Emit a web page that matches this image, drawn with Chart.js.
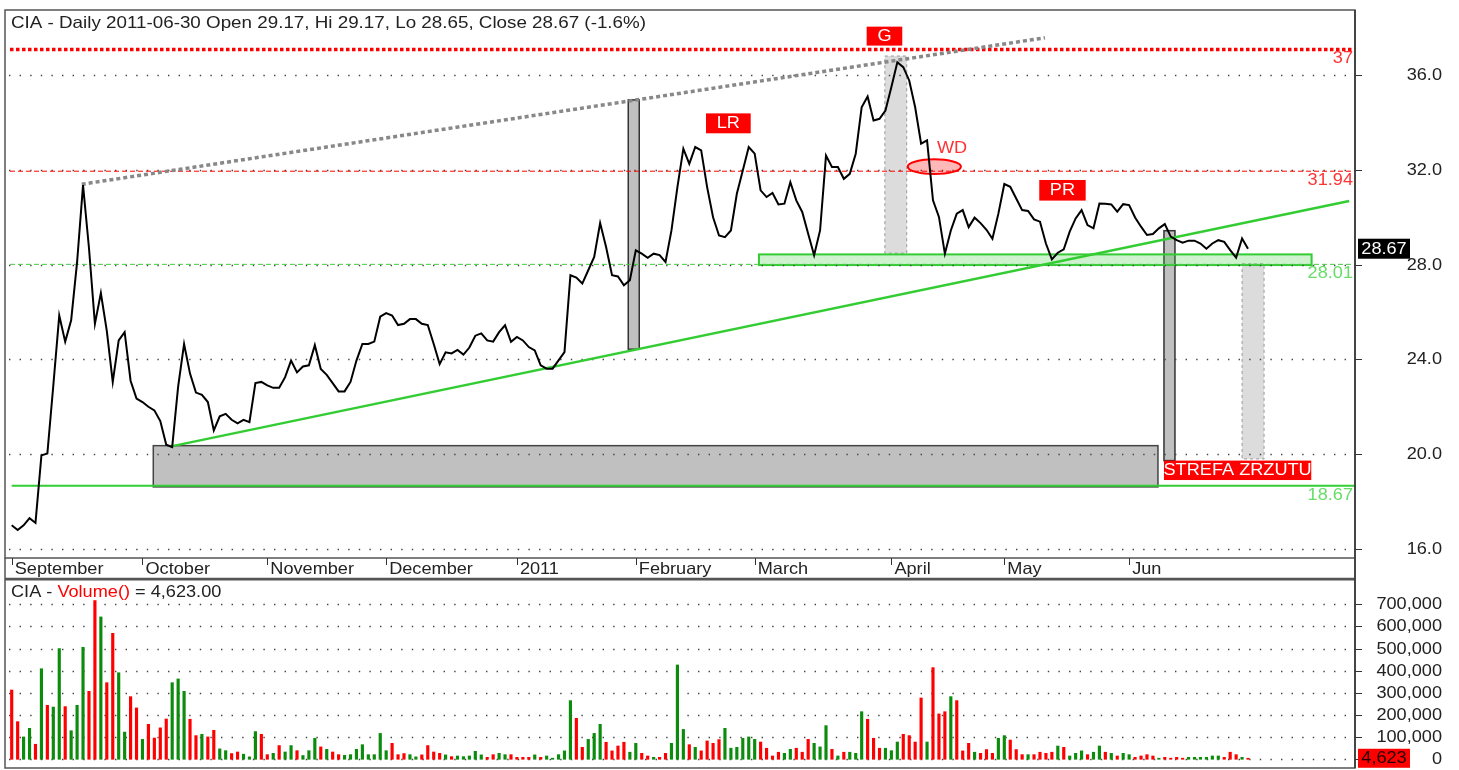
<!DOCTYPE html>
<html><head><meta charset="utf-8">
<script src="https://cdn.jsdelivr.net/npm/chart.js@4.4.0/dist/chart.umd.min.js"></script>
<style>
html,body{margin:0;padding:0;background:#fff;width:1459px;height:770px;overflow:hidden}
#c1{position:absolute;left:0;top:0}
#c2{position:absolute;left:0;top:579px}
</style></head><body>
<canvas id="c1" width="1459" height="579"></canvas>
<canvas id="c2" width="1459" height="191"></canvas>
<script>
// ---------------- DATA ----------------
const titleText = 'CIA - Daily 2011-06-30 Open 29.17, Hi 29.17, Lo 28.65, Close 28.67 (-1.6%)';
const closes = [
17.0,16.8,17.0,17.3,17.1,19.95,20.03,22.9,25.85,24.75,
25.65,28.1,31.35,28.7,25.5,26.8,25.2,23.05,24.8,25.15,
23.1,22.35,22.2,22.0,21.85,21.4,20.4,20.3,22.85,24.65,
23.4,22.6,22.5,22.2,21.0,21.6,21.7,21.45,21.3,21.45,
21.35,23.0,23.05,22.9,22.8,22.8,23.25,23.95,23.45,23.7,
23.75,24.6,23.6,23.35,23.0,22.65,22.65,23.05,23.95,24.65,
24.65,24.75,25.8,25.95,25.85,25.45,25.5,25.7,25.7,25.5,
25.45,24.65,23.8,24.3,24.25,24.4,24.2,24.5,25.0,25.1,
24.8,24.75,25.15,25.44,24.74,24.95,24.8,24.52,24.38,23.75,
23.61,23.61,23.96,24.31,27.55,27.45,27.2,27.76,28.32,29.75,
28.74,27.55,27.5,27.13,27.34,28.6,28.46,28.29,28.46,28.4,
28.11,29.44,31.27,32.89,32.25,32.96,32.82,31.27,30.0,29.23,
29.16,29.44,30.99,31.97,32.96,32.68,31.13,30.85,31.02,30.54,
30.57,31.48,30.71,30.22,29.3,28.39,29.44,32.6,32.12,32.12,
31.62,31.83,32.68,34.64,35.09,34.08,34.15,34.5,35.49,36.54,
36.33,35.77,34.64,33.1,33.24,30.71,30.01,28.46,29.44,30.15,
30.3,29.58,29.98,29.75,29.47,29.09,30.15,31.40,31.28,30.79,
30.30,30.26,29.91,29.81,28.89,28.22,28.50,28.64,29.39,29.95,
30.30,29.67,29.53,30.58,30.57,30.54,30.23,30.55,30.51,29.99,
29.60,29.25,29.29,29.53,29.71,29.18,29.03,28.92,29.01,29.01,
28.89,28.67,28.89,29.03,28.96,28.61,28.29,29.10,28.67
];
const volumes = [
313000,170000,101000,140000,68000,409000,244000,236000,500000,238000,
129000,244000,506000,307000,717000,643000,346000,569000,391000,123000,
283000,232000,90000,158000,96000,142000,182000,346000,363000,307000,
181000,107000,113000,101000,131000,47000,39000,26000,33000,23000,
11000,125000,113000,21000,27000,62000,33000,62000,39000,17000,
39000,95000,56000,45000,33000,21000,18000,21000,45000,66000,
21000,21000,117000,39000,72000,21000,26000,21000,11000,20000,
62000,33000,27000,20000,12000,15000,12000,15000,36000,20000,
9000,21000,27000,21000,21000,9000,9000,9000,20000,9000,
15000,5000,21000,38000,265000,185000,54000,90000,117000,158000,
77000,38000,60000,77000,32000,72000,27000,15000,9000,9000,
27000,72000,426000,135000,66000,54000,38000,83000,72000,89000,
140000,50000,54000,95000,101000,90000,78000,50000,15000,32000,
27000,45000,50000,32000,90000,72000,56000,152000,45000,15000,
32000,32000,27000,215000,181000,95000,50000,50000,39000,78000,
113000,107000,78000,277000,78000,414000,205000,215000,283000,265000,
38000,72000,32000,27000,44000,27000,95000,107000,87000,44000,
21000,21000,21000,32000,27000,32000,60000,54000,15000,27000,
38000,21000,32000,60000,32000,27000,15000,27000,21000,9000,
15000,21000,15000,5000,9000,5000,9000,5000,9000,9000,
9000,9000,15000,15000,9000,32000,21000,9000,4623
];
// U = up day (green volume), D = down day (red volume)
const dirs =
 "DDUUDUDUUD"+"UUUDDUDDUU"+"DDUDDDDUUU"+"DDUDDUUDDU"+"UUDDUDUUDU"+
 "UUDUDDUUUU"+"UUUUDDDUUD"+"DDDUDUUUUU"+"DDUUDDDDUD"+"UUUUUDDUUU"+
 "DDDDUUDDUD"+"DUUUDUDDDD"+"UUUUUUDDDD"+"UUDDDUUUDU"+"DUUUDDDUUU"+
 "DDDDUDDDUD"+"DDUDDDUUDD"+"DUDDDDUDUU"+"UDUUDUDUUD"+"DDDUDDDDUU"+
 "UUUUDDDUD";
const monthLabels = ['September','October','November','December','2011','February','March','April','May','Jun'];
const monthStarts = [0,22,43,63,85,105,125,148,167,188];
const priceTicks = [16,20,24,28,32,36];
const volumeTicks = [0,100000,200000,300000,400000,500000,600000,700000];
const levelValues = [37.08,31.94,28.01,18.67];
const levelLabels = ['37','31.94','28.01','18.67'];
const resistanceLine = [[11.78,31.39],[173.84,37.57]];
const supportLine = [[26.63,20.32],[225.03,30.68]];
const baseBox = [23.82,192.85,18.62,20.36];
const bar1 = [103.73,105.58,24.43,34.95];
const bar2 = [193.86,195.71,19.73,29.43];
const gZone = [146.9,150.58,28.48,36.8];
const dropZone = [207.0,210.7,19.8,28.03];
const supportZone = [125.72,218.7,27.98,28.43];
const wdEllipse = [150.75,159.7,31.82,32.44];
const wdText = [155.67,32.92];
const tagTexts = ['G','LR','PR','STREFA ZRZUTU'];
const tagBoxes = [[143.84,149.83,37.24,38.04],[116.81,124.33,33.54,34.38],[172.88,180.69,30.70,31.57],[193.86,218.64,18.91,19.73]];
const lastClose = 28.67;

// ---------------- HELPERS ----------------
const FONT = '"Liberation Sans", Arial, sans-serif';
function txt(ctx, s, x, y, o) {
  o = o || {};
  ctx.save();
  ctx.font = (o.size || 16.5) + 'px ' + FONT;
  ctx.fillStyle = o.color || '#222';
  ctx.textBaseline = o.base || 'middle';
  ctx.textAlign = 'left';
  let sx = o.sx || 1.1;
  const nat = ctx.measureText(s).width;
  if (o.fit) sx = o.fit / nat;
  const w = nat * sx;
  let x0 = x;
  if (o.align === 'right') x0 = x - w; else if (o.align === 'center') x0 = x - w / 2;
  ctx.translate(x0, y); ctx.scale(sx, 1); ctx.fillText(s, 0, 0);
  ctx.restore();
  return w;
}
function dotted(ctx, x0, x1, y) {
  ctx.save(); ctx.strokeStyle = '#444'; ctx.lineWidth = 1.4; ctx.setLineDash([1.4, 9.2]);
  ctx.beginPath(); ctx.moveTo(x0, y); ctx.lineTo(x1, y); ctx.stroke(); ctx.restore();
}
function rectD(ctx, xs, ys, r, fill, stroke, lw, dash) {
  const x0 = xs.getPixelForValue(r[0]), x1 = xs.getPixelForValue(r[1]);
  const y0 = ys.getPixelForValue(r[3]), y1 = ys.getPixelForValue(r[2]);
  ctx.save();
  if (fill) { ctx.fillStyle = fill; ctx.fillRect(x0, y0, x1 - x0, y1 - y0); }
  if (stroke) { ctx.strokeStyle = stroke; ctx.lineWidth = lw || 1; if (dash) ctx.setLineDash(dash); ctx.strokeRect(x0, y0, x1 - x0, y1 - y0); }
  ctx.restore();
  return [x0, y0, x1, y1];
}
function seg(ctx, xs, ys, p, color, lw, dash) {
  ctx.save(); ctx.strokeStyle = color; ctx.lineWidth = lw; if (dash) ctx.setLineDash(dash);
  ctx.beginPath();
  ctx.moveTo(xs.getPixelForValue(p[0][0]), ys.getPixelForValue(p[0][1]));
  ctx.lineTo(xs.getPixelForValue(p[1][0]), ys.getPixelForValue(p[1][1]));
  ctx.stroke(); ctx.restore();
}
const RED = '#ff0000', GREEN = '#33cc33', FRAME = '#555';

// ---------------- PRICE CHART ----------------
const pricePlugin = {
  id: 'priceDecor',
  beforeDatasetsDraw(chart) {
    const ctx = chart.ctx, xs = chart.scales.x, ys = chart.scales.y, a = chart.chartArea;
    rectD(ctx, xs, ys, gZone, '#dcdcdc', '#999', 1, [3, 3]);
    rectD(ctx, xs, ys, dropZone, '#dcdcdc', '#999', 1, [3, 3]);
    rectD(ctx, xs, ys, baseBox, '#c0c0c0', '#444', 1.5);
    rectD(ctx, xs, ys, bar1, '#c0c0c0', '#333', 1.5);
    rectD(ctx, xs, ys, bar2, '#c0c0c0', '#333', 1.5);
    rectD(ctx, xs, ys, supportZone, 'rgba(60,200,60,0.25)', GREEN, 2);
    priceTicks.forEach(v => dotted(ctx, a.left + 3, a.right, Math.round(ys.getPixelForValue(v)) + 0.5));
    const L = levelValues.map(v => ys.getPixelForValue(v));
    ctx.save();
    ctx.strokeStyle = RED; ctx.lineWidth = 3.5; ctx.setLineDash([3.5, 2.5]);
    ctx.beginPath(); ctx.moveTo(a.left + 4, L[0]); ctx.lineTo(a.right - 2, L[0]); ctx.stroke();
    ctx.lineWidth = 1; ctx.setLineDash([5, 3]);
    ctx.beginPath(); ctx.moveTo(a.left + 4, L[1]); ctx.lineTo(a.right, L[1]); ctx.stroke();
    ctx.strokeStyle = '#44cc44';
    ctx.beginPath(); ctx.moveTo(a.left + 4, L[2]); ctx.lineTo(a.right, L[2]); ctx.stroke();
    ctx.setLineDash([]); ctx.strokeStyle = GREEN; ctx.lineWidth = 2;
    ctx.beginPath(); ctx.moveTo(xs.getPixelForValue(0), L[3]); ctx.lineTo(a.right, L[3]); ctx.stroke();
    ctx.restore();
    seg(ctx, xs, ys, resistanceLine, '#888', 3.5, [4, 3]);
    seg(ctx, xs, ys, supportLine, GREEN, 2.5);
    const ex0 = xs.getPixelForValue(wdEllipse[0]), ex1 = xs.getPixelForValue(wdEllipse[1]);
    const ey0 = ys.getPixelForValue(wdEllipse[3]), ey1 = ys.getPixelForValue(wdEllipse[2]);
    ctx.save(); ctx.beginPath();
    ctx.ellipse((ex0 + ex1) / 2, (ey0 + ey1) / 2, (ex1 - ex0) / 2, (ey1 - ey0) / 2, 0, 0, Math.PI * 2);
    ctx.fillStyle = 'rgba(255,0,0,0.28)'; ctx.fill(); ctx.strokeStyle = RED; ctx.lineWidth = 2; ctx.stroke();
    ctx.restore();
  },
  afterDatasetsDraw(chart) {
    const ctx = chart.ctx, xs = chart.scales.x, ys = chart.scales.y, a = chart.chartArea;
    tagBoxes.forEach((b, k) => {
      const r = rectD(ctx, xs, ys, b, RED);
      txt(ctx, tagTexts[k], (r[0] + r[2]) / 2, (r[1] + r[3]) / 2 + 0.5, { color: '#fff', align: 'center' });
    });
    txt(ctx, 'WD', xs.getPixelForValue(wdText[0]), ys.getPixelForValue(wdText[1]), { color: '#ff3333' });
    const lc = ['#ff3333', '#ff3333', '#66dd66', '#66dd66'];
    levelValues.forEach((v, k) => txt(ctx, levelLabels[k], a.right - 2, ys.getPixelForValue(v) + 9.5, { color: lc[k], align: 'right' }));
  },
  afterDraw(chart) {
    const ctx = chart.ctx, xs = chart.scales.x, ys = chart.scales.y, a = chart.chartArea;
    ctx.save();
    ctx.strokeStyle = FRAME; ctx.lineWidth = 1.5;
    ctx.strokeRect(a.left - 1, a.top - 1, a.right - a.left + 1, a.bottom - a.top + 1);
    ctx.beginPath(); ctx.moveTo(a.left - 1, a.bottom); ctx.lineTo(a.left - 1, 578.5); ctx.lineTo(a.right, 578.5); ctx.lineTo(a.right, a.bottom); ctx.stroke();
    ctx.strokeStyle = '#333'; ctx.lineWidth = 1.5;
    ctx.beginPath(); ctx.moveTo(a.right, a.top - 1); ctx.lineTo(a.right, 579); ctx.stroke();
    ctx.lineWidth = 1;
    monthStarts.forEach(m => { const x = Math.round(xs.getPixelForValue(m)) + 0.5; ctx.beginPath(); ctx.moveTo(x, a.bottom); ctx.lineTo(x, a.bottom + 7); ctx.stroke(); });
    priceTicks.forEach(v => { const y = Math.round(ys.getPixelForValue(v)) + 0.5; ctx.beginPath(); ctx.moveTo(a.right, y); ctx.lineTo(a.right + 7, y); ctx.stroke(); });
    ctx.restore();
    monthStarts.forEach((m, k) => txt(ctx, monthLabels[k], xs.getPixelForValue(m) + 3, 574, { base: 'alphabetic' }));
    priceTicks.forEach(v => txt(ctx, v.toFixed(1), 1442, ys.getPixelForValue(v) + 0.5, { align: 'right' }));
    const yl = ys.getPixelForValue(lastClose);
    ctx.fillStyle = '#000'; ctx.fillRect(a.right + 3, yl - 10, 52, 20);
    txt(ctx, lastClose.toFixed(2), a.right + 29, yl + 0.5, { color: '#fff', align: 'center' });
    txt(ctx, titleText, 11, 28, { base: 'alphabetic', fit: 635 });
  }
};

new Chart(document.getElementById('c1'), {
  type: 'line',
  data: { datasets: [{ data: closes.map((v, i) => ({ x: i, y: v })), borderColor: '#000', borderWidth: 2, pointRadius: 0, tension: 0, fill: false }] },
  options: {
    responsive: false, animation: false, devicePixelRatio: 1, events: [],
    layout: { padding: { left: 6, top: 11, right: 104, bottom: 21 } },
    scales: {
      x: { type: 'linear', min: -0.96, max: 226, display: false },
      y: { type: 'linear', min: 15.62, max: 38.70, display: false }
    },
    plugins: { legend: { display: false }, tooltip: { enabled: false } }
  },
  plugins: [pricePlugin]
});

// ---------------- VOLUME CHART ----------------
const volPlugin = {
  id: 'volDecor',
  beforeDatasetsDraw(chart) {
    const ctx = chart.ctx, ys = chart.scales.y, a = chart.chartArea;
    volumeTicks.forEach(v => dotted(ctx, a.left + 3, a.right, Math.round(ys.getPixelForValue(v)) + 0.5));
  },
  afterDraw(chart) {
    const ctx = chart.ctx, ys = chart.scales.y, a = chart.chartArea;
    ctx.save();
    ctx.strokeStyle = FRAME; ctx.lineWidth = 1.5;
    ctx.strokeRect(a.left - 1, 0.75, a.right - a.left + 1, a.bottom - 0.75);
    ctx.strokeStyle = '#333';
    ctx.beginPath(); ctx.moveTo(a.right, 0); ctx.lineTo(a.right, a.bottom); ctx.stroke();
    ctx.lineWidth = 1;
    volumeTicks.forEach(v => { const y = Math.round(ys.getPixelForValue(v)) + 0.5; ctx.beginPath(); ctx.moveTo(a.right, y); ctx.lineTo(a.right + 7, y); ctx.stroke(); });
    ctx.restore();
    volumeTicks.forEach(v => txt(ctx, v.toLocaleString('en-US'), 1442, ys.getPixelForValue(v) + 0.5, { align: 'right' }));
    const last = volumes[volumes.length - 1];
    const yl = ys.getPixelForValue(last);
    ctx.fillStyle = RED; ctx.fillRect(a.right + 3, yl - 9.5, 52, 19);
    txt(ctx, last.toLocaleString('en-US'), a.right + 29, yl + 0.5, { color: '#200', align: 'center' });
    let x = 11;
    x += txt(ctx, 'CIA - ', x, 18, { base: 'alphabetic' });
    x += txt(ctx, 'Volume()', x, 18, { base: 'alphabetic', color: RED });
    txt(ctx, ' = ' + last.toLocaleString('en-US', { minimumFractionDigits: 2, maximumFractionDigits: 2 }), x, 18, { base: 'alphabetic' });
  }
};

new Chart(document.getElementById('c2'), {
  type: 'bar',
  data: { datasets: [{ data: volumes.map((v, i) => ({ x: i, y: v })), backgroundColor: volumes.map((v, i) => dirs[i] === 'U' ? '#0c8c0c' : RED), barThickness: 2.5, borderWidth: 0 }] },
  options: {
    responsive: false, animation: false, devicePixelRatio: 1, events: [],
    layout: { padding: { left: 6, top: 1, right: 104, bottom: 2 } },
    scales: {
      x: { type: 'linear', min: -0.96, max: 226, display: false, offset: false },
      y: { type: 'linear', min: -39300, max: 809800, display: false }
    },
    plugins: { legend: { display: false }, tooltip: { enabled: false } }
  },
  plugins: [volPlugin]
});
</script>
</body></html>
